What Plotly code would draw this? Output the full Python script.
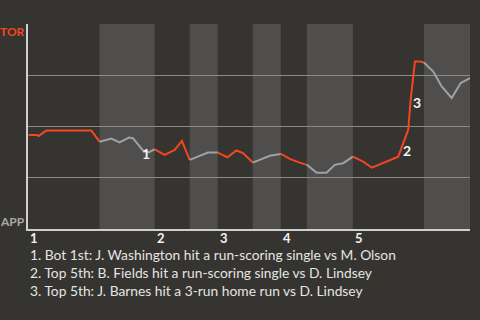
import plotly.graph_objects as go

# Game progress (x) and TOR win probability (y)
progress = [0.5, 8.8, 10.5, 18.2, 63.2, 71.5,
            83.2, 91.5, 100.8, 104.8, 114.8, 120.5, 126.5,
            136.5, 146.5, 153.8, 161.5,
            171.5, 179.8, 189.5,
            199.2, 208.2, 214.8, 224.5,
            231.5, 241.5, 252.5,
            261.5, 271.5, 278.5,
            288.2, 298.2, 306.5, 314.8, 324.5,
            334.8, 343.5, 351.5, 369.8, 379.8, 382.2, 386.5, 391.5, 395.5,
            404.8, 413.2, 423.2, 432.2, 441.5]
tor_wp = [0.459, 0.459, 0.453, 0.480, 0.480, 0.426,
          0.441, 0.422, 0.446, 0.443, 0.383, 0.374, 0.389,
          0.362, 0.386, 0.430, 0.337,
          0.357, 0.373, 0.373,
          0.350, 0.383, 0.370, 0.324,
          0.337, 0.357, 0.366,
          0.342, 0.324, 0.313,
          0.275, 0.275, 0.313, 0.321, 0.353,
          0.329, 0.299, 0.316, 0.353, 0.484, 0.630, 0.817, 0.817, 0.812,
          0.768, 0.695, 0.639, 0.712, 0.736]

# half-inning boundaries (top, bottom alternating)
half_bounds = [0, 71.5, 126.5, 161.5, 189.5, 224.5, 252.5, 278.5, 324.5, 395.5, 441.5]
inning_labels = ["1", "2", "3", "4", "5"]

# key events
event_x = [114.8, 369.8, 382.2]
event_wp = [0.383, 0.353, 0.630]
event_labels = ["1", "2", "3"]
captions = [
    "1. Bot 1st: J. Washington hit a run-scoring single vs M. Olson",
    "2. Top 5th: B. Fields hit a run-scoring single vs D. Lindsey",
    "3. Top 5th: J. Barnes hit a 3-run home run vs D. Lindsey",
]

BG = "#353430"
BAND = "#4f4e4c"
ORANGE = "#f4461f"
GREY = "#9ea2a4"
FONT = "Lato"

fig = go.Figure()

shapes = []
for i in range(len(half_bounds) - 1):
    if i % 2 == 1:
        shapes.append(dict(type="rect", xref="x", yref="paper",
                           x0=half_bounds[i], x1=half_bounds[i + 1], y0=0, y1=1,
                           fillcolor=BAND, line_width=0, layer="below"))

for i in range(len(half_bounds) - 1):
    a, b = half_bounds[i], half_bounds[i + 1]
    xs = [x for x in progress if a <= x <= b]
    ys = [y for x, y in zip(progress, tor_wp) if a <= x <= b]
    fig.add_trace(go.Scatter(x=xs, y=ys, mode="lines",
                             line=dict(color=ORANGE if i % 2 == 0 else GREY, width=2),
                             hoverinfo="skip", showlegend=False))

annotations = []
offsets = [(3, -3), (9, 6), (6, -3)]
for ex, ey, lab, (dx, dy) in zip(event_x, event_wp, event_labels, offsets):
    annotations.append(dict(x=ex, y=ey, xref="x", yref="y", text=lab, showarrow=False,
                            xshift=dx, yshift=dy,
                            font=dict(family=FONT, size=14, color="#f2f2f2", weight="bold")))

# inning labels at the start of each top half
for j, lab in enumerate(inning_labels):
    annotations.append(dict(x=half_bounds[2 * j], y=0, xref="x", yref="paper", text=lab,
                            showarrow=False, xanchor="left", yanchor="middle",
                            xshift=0, yshift=-9,
                            font=dict(family=FONT, size=13, color="#f2f2f2", weight="bold")))

annotations.append(dict(x=0, y=1, xref="paper", yref="paper", text="TOR", showarrow=False,
                        xanchor="right", yanchor="middle", xshift=-1, yshift=-7,
                        font=dict(family=FONT, size=12, color=ORANGE, weight="bold")))
annotations.append(dict(x=0, y=0, xref="paper", yref="paper", text="APP", showarrow=False,
                        xanchor="right", yanchor="middle", xshift=-1, yshift=8,
                        font=dict(family=FONT, size=12, color="#a9a9a9", weight="bold")))

for k, cap in enumerate(captions):
    annotations.append(dict(x=0, y=0, xref="paper", yref="paper", text=cap, showarrow=False,
                            xanchor="left", yanchor="middle", xshift=0, yshift=-25 - 18 * k,
                            font=dict(family=FONT, size=13.8, color="#e4e4e4")))

fig.update_layout(
    width=480, height=320,
    margin=dict(l=28, r=10, t=24, b=91),
    paper_bgcolor=BG, plot_bgcolor=BG,
    shapes=shapes, annotations=annotations,
    xaxis=dict(range=[0, half_bounds[-1]], showgrid=False, zeroline=False,
               showline=True, linecolor="#cfcfcf", linewidth=1.5,
               showticklabels=False, ticks="", fixedrange=True),
    yaxis=dict(range=[0, 1], tickvals=[0, 0.25, 0.5, 0.75, 1], showticklabels=False,
               showgrid=True, gridcolor="#8a8a8a", gridwidth=1, zeroline=False,
               showline=True, linecolor="#cfcfcf", linewidth=1.5, ticks="",
               fixedrange=True),
)

fig.write_html("out.html")
